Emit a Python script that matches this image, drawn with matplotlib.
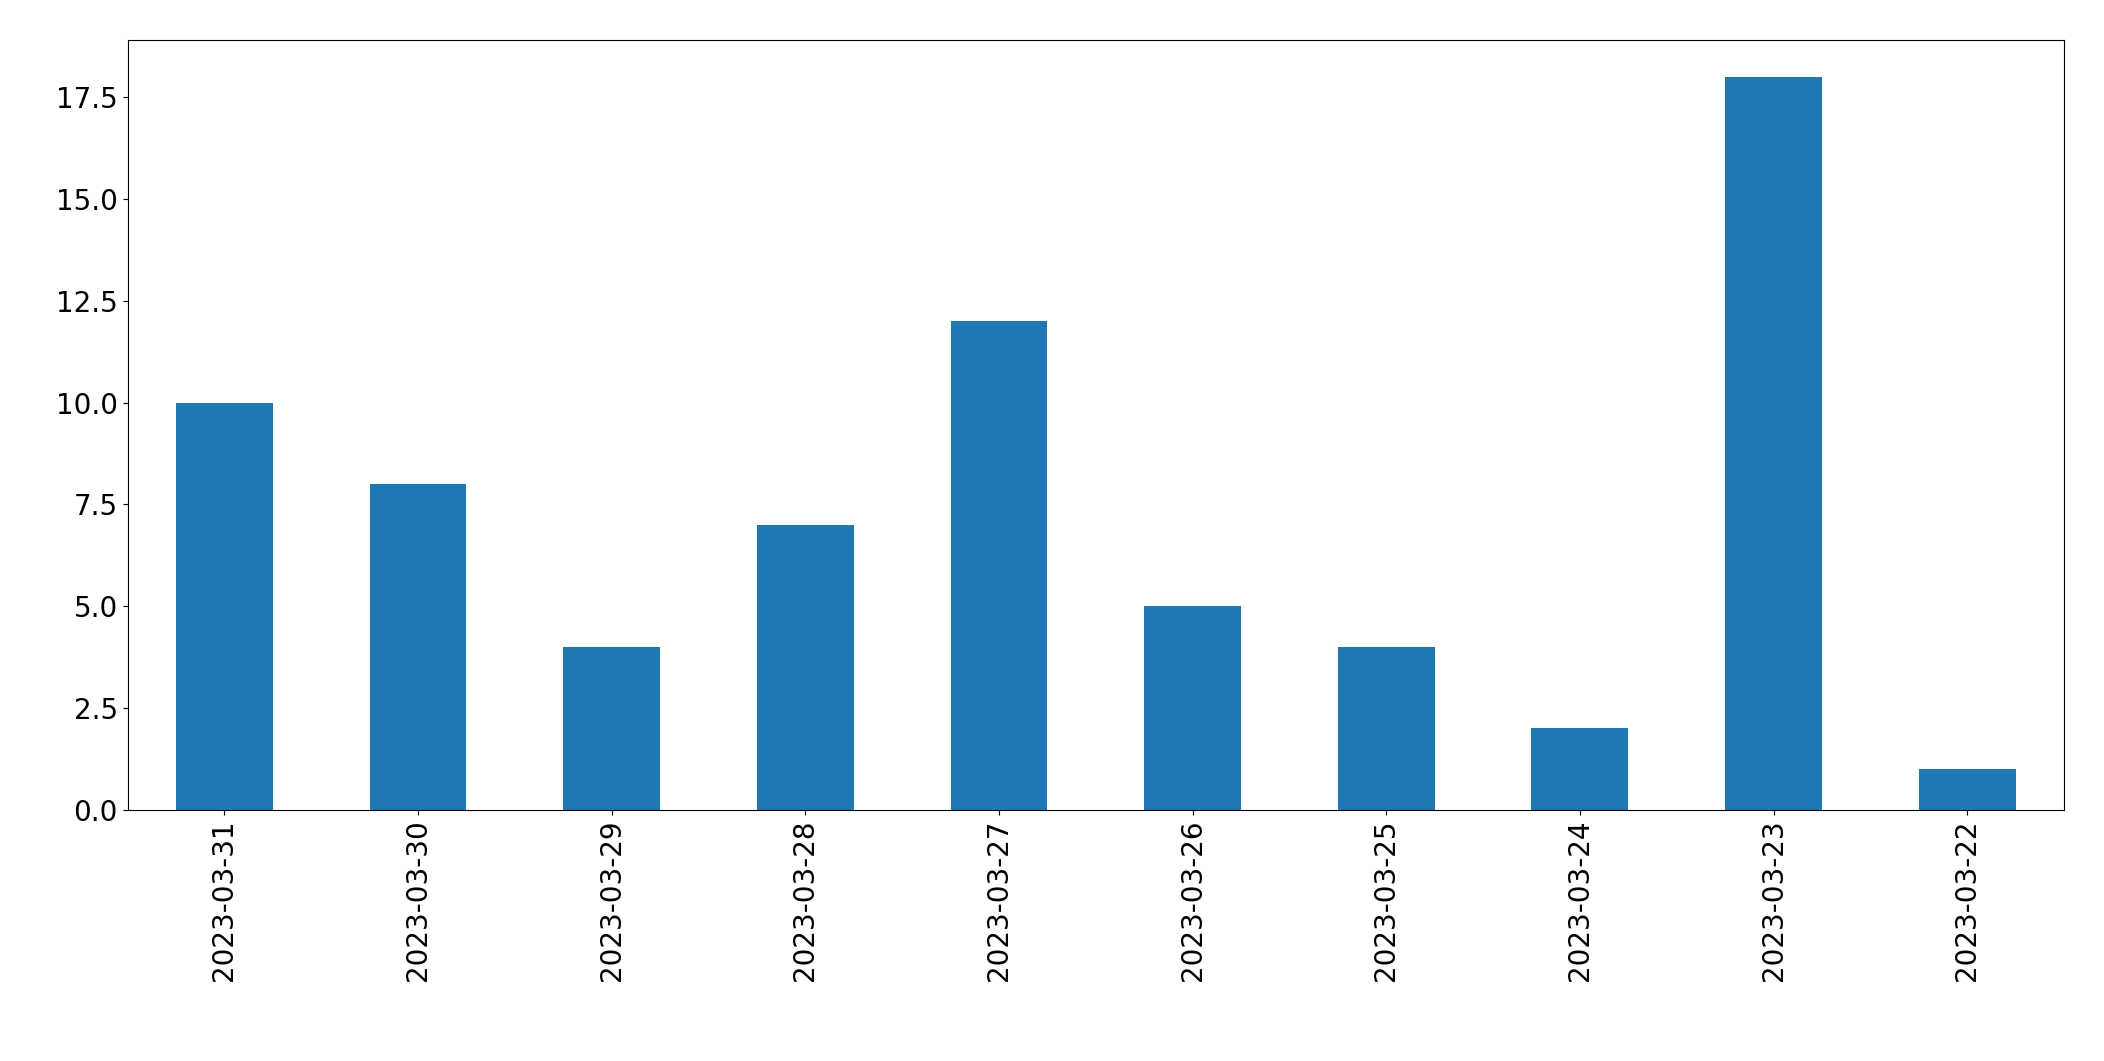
import matplotlib
matplotlib.use("Agg")
import matplotlib.pyplot as plt

dates = ["2023-03-31", "2023-03-30", "2023-03-29", "2023-03-28", "2023-03-27",
         "2023-03-26", "2023-03-25", "2023-03-24", "2023-03-23", "2023-03-22"]
counts = [10, 8, 4, 7, 12, 5, 4, 2, 18, 1]

fig = plt.figure(figsize=(21.04, 10.61), dpi=100)
ax = fig.add_axes([0.0606, 0.237, 0.9204, 0.725])
x = range(len(dates))
ax.bar(x, counts, width=0.5, color="#1f77b4")
ax.set_xticks(list(x))
ax.set_xticklabels(dates, rotation=90)
ax.set_xlim(-0.5, len(dates) - 0.5)
ax.set_ylim(0, 18.9)
ax.tick_params(labelsize=20)
fig.savefig("out.png", dpi=100)
